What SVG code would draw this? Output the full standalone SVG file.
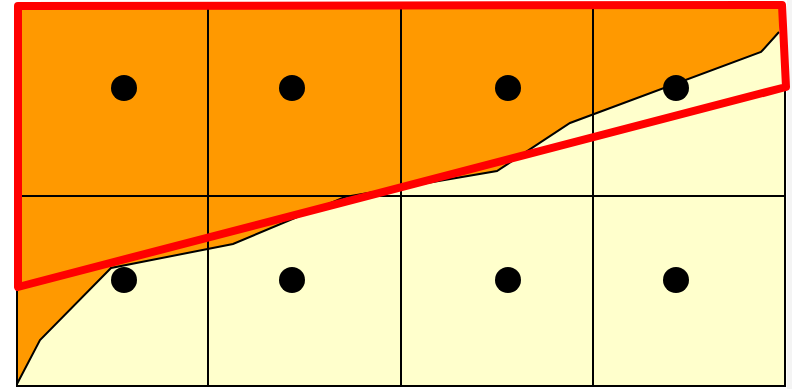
<svg xmlns="http://www.w3.org/2000/svg" width="792" height="389" viewBox="0 0 792 389">
  <style>
    .grid { fill: none; stroke: #000; stroke-width: 2; }
    .dot { fill: #000; }
  </style>
  <rect x="0" y="0" width="792" height="389" fill="#ffffff"/>
  <rect x="787" y="0" width="5" height="389" fill="#f4f4f4"/>
  <g id="cells">
    <rect x="17" y="7" width="768" height="379" fill="#FFFFCC"/>
  </g>
  <g id="region">
    <polygon points="17,7 782,7 779,32 761,52 570,123 497,171 345,197 233,244 111,268 40,340 17,384" fill="#FF9900"/>
    <polyline points="779,32 761,52 570,123 497,171 345,197 233,244 111,268 40,340 17,384" fill="none" stroke="#000" stroke-width="2"/>
  </g>
  <g id="grid">
    <rect class="grid" x="17" y="7" width="768" height="379"/>
    <line class="grid" x1="17" y1="386" x2="785" y2="386" stroke-width="3"/>
    <line class="grid" x1="208" y1="7" x2="208" y2="386"/>
    <line class="grid" x1="401" y1="7" x2="401" y2="386"/>
    <line class="grid" x1="593" y1="7" x2="593" y2="386"/>
    <line class="grid" x1="17" y1="196" x2="785" y2="196"/>
  </g>
  <g id="points">
    <circle class="dot" cx="124" cy="88" r="13"/>
    <circle class="dot" cx="292" cy="88" r="13"/>
    <circle class="dot" cx="508" cy="88" r="13"/>
    <circle class="dot" cx="676" cy="88" r="13"/>
    <circle class="dot" cx="124" cy="280" r="13"/>
    <circle class="dot" cx="292" cy="280" r="13"/>
    <circle class="dot" cx="508" cy="280" r="13"/>
    <circle class="dot" cx="676" cy="280" r="13"/>
  </g>
  <g id="selection">
    <polygon points="18,6 782,5 786,87 18,287" fill="none" stroke="#FF0000" stroke-width="8" stroke-linejoin="round"/>
  </g>
</svg>
